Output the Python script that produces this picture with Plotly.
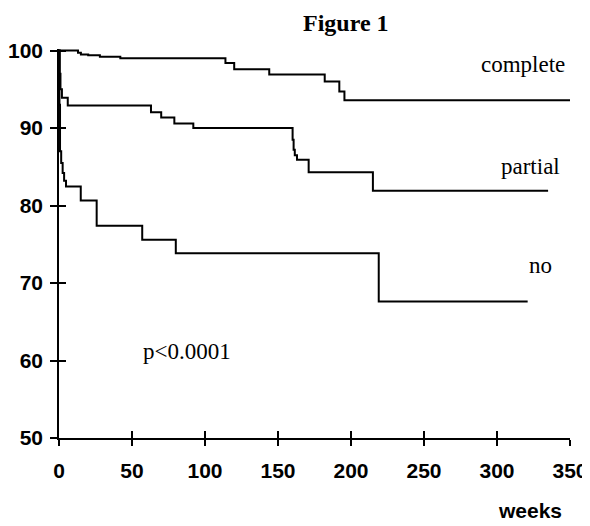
import plotly.graph_objects as go

# Kaplan-Meier style step curves (weeks vs. percent)
complete_weeks = [0, 11, 13, 15, 20, 28, 42, 114, 120, 144, 182, 192, 195.5, 353]
complete_surv = [100, 100, 99.7, 99.5, 99.4, 99.2, 99.0, 98.4, 97.6, 96.9, 96.0, 94.7, 93.6, 93.6]

partial_weeks = [0, 0.5, 1, 2, 6, 63, 70, 79, 92, 160, 160.7, 161.5, 163, 171, 215, 335]
partial_surv = [100, 97, 95, 93.9, 92.9, 92.05, 91.35, 90.6, 90.0, 88.5, 87.2, 86.5, 85.9, 84.3, 81.9, 81.9]

no_weeks = [0, 0.3, 0.7, 1.5, 2.5, 3.5, 4.8, 14.9, 25.8, 57, 80, 219, 321]
no_surv = [100, 93, 87, 85.5, 84.2, 83.2, 82.45, 80.65, 77.4, 75.6, 73.85, 67.6, 67.6]

x_ticks = [0, 50, 100, 150, 200, 250, 300, 350]
y_ticks = [50, 60, 70, 80, 90, 100]

fig = go.Figure()
for wk, sv, nm in [(complete_weeks, complete_surv, "complete"),
                   (partial_weeks, partial_surv, "partial"),
                   (no_weeks, no_surv, "no")]:
    fig.add_trace(go.Scatter(x=wk, y=sv, mode="lines", name=nm,
                             line=dict(color="black", width=2, shape="hv"),
                             showlegend=False, hoverinfo="skip"))

# empty trace so the overlay axes (inner half of the crossing ticks) are drawn
fig.add_trace(go.Scatter(x=[None], y=[None], xaxis="x2", yaxis="y2",
                         mode="lines", showlegend=False, hoverinfo="skip"))

tickfont = dict(family="Liberation Sans, Arial, sans-serif", size=21, color="black", weight="bold")
serif = "Liberation Serif, Times New Roman, serif"

# the page body has an 8px margin, so the figure is sized to fit the window
fig.update_layout(
    width=582, height=518,
    margin=dict(l=51, r=20, t=41, b=88),
    paper_bgcolor="white", plot_bgcolor="white",
    xaxis=dict(range=[0, 350], tickvals=x_ticks, ticks="outside", ticklen=6,
               tickwidth=1.5, tickcolor="black", showline=True, linecolor="black",
               linewidth=1.5, showgrid=False, zeroline=False, tickfont=tickfont,
               ticklabelstandoff=7, automargin=False, ticklabeloverflow="allow"),
    yaxis=dict(range=[50, 100.2], tickvals=y_ticks, ticks="outside", ticklen=7,
               tickwidth=1.5, tickcolor="black", showline=True, linecolor="black",
               linewidth=1.5, showgrid=False, zeroline=False, tickfont=tickfont,
               ticklabelstandoff=3, automargin=False, ticklabeloverflow="allow"),
    xaxis2=dict(overlaying="x", anchor="y", range=[0, 350], tickvals=x_ticks,
                ticks="inside", ticklen=7, tickwidth=1.5, tickcolor="black",
                showticklabels=False, showline=False, showgrid=False, zeroline=False,
                side="bottom", automargin=False),
    yaxis2=dict(overlaying="y", anchor="x", range=[50, 100.2], tickvals=y_ticks,
                ticks="inside", ticklen=7, tickwidth=1.5, tickcolor="black",
                showticklabels=False, showline=False, showgrid=False, zeroline=False,
                side="left", automargin=False),
)

# paper-fraction helpers (page pixels) for text placed outside the plot area
def px_x(px):
    return (px - 59) / 511.0

def px_y(py):
    return (438 - py) / 389.0

annots = [
    dict(text="<b>Figure 1</b>", x=px_x(345.5), y=px_y(8.5), size=24, family=serif,
         ref="paper", yanchor="top"),
    dict(text="<b>weeks</b>", x=px_x(530), y=px_y(510), size=21,
         family="Liberation Sans, Arial, sans-serif", ref="paper", yanchor="middle"),
    dict(text="complete", x=318, y=98.15, size=23, family=serif, ref="data", yanchor="middle"),
    dict(text="partial", x=322.6, y=85.1, size=23, family=serif, ref="data", yanchor="middle"),
    dict(text="no", x=329.8, y=72.2, size=23, family=serif, ref="data", yanchor="middle"),
    dict(text="p<0.0001", x=87.7, y=61.1, size=23, family=serif, ref="data", yanchor="middle"),
]
for a in annots:
    xr, yr = ("paper", "paper") if a["ref"] == "paper" else ("x", "y")
    fig.add_annotation(text=a["text"], x=a["x"], y=a["y"], xref=xr, yref=yr,
                       showarrow=False, xanchor="center", yanchor=a["yanchor"],
                       font=dict(family=a["family"], size=a["size"], color="black"))

fig.write_html("out.html")
